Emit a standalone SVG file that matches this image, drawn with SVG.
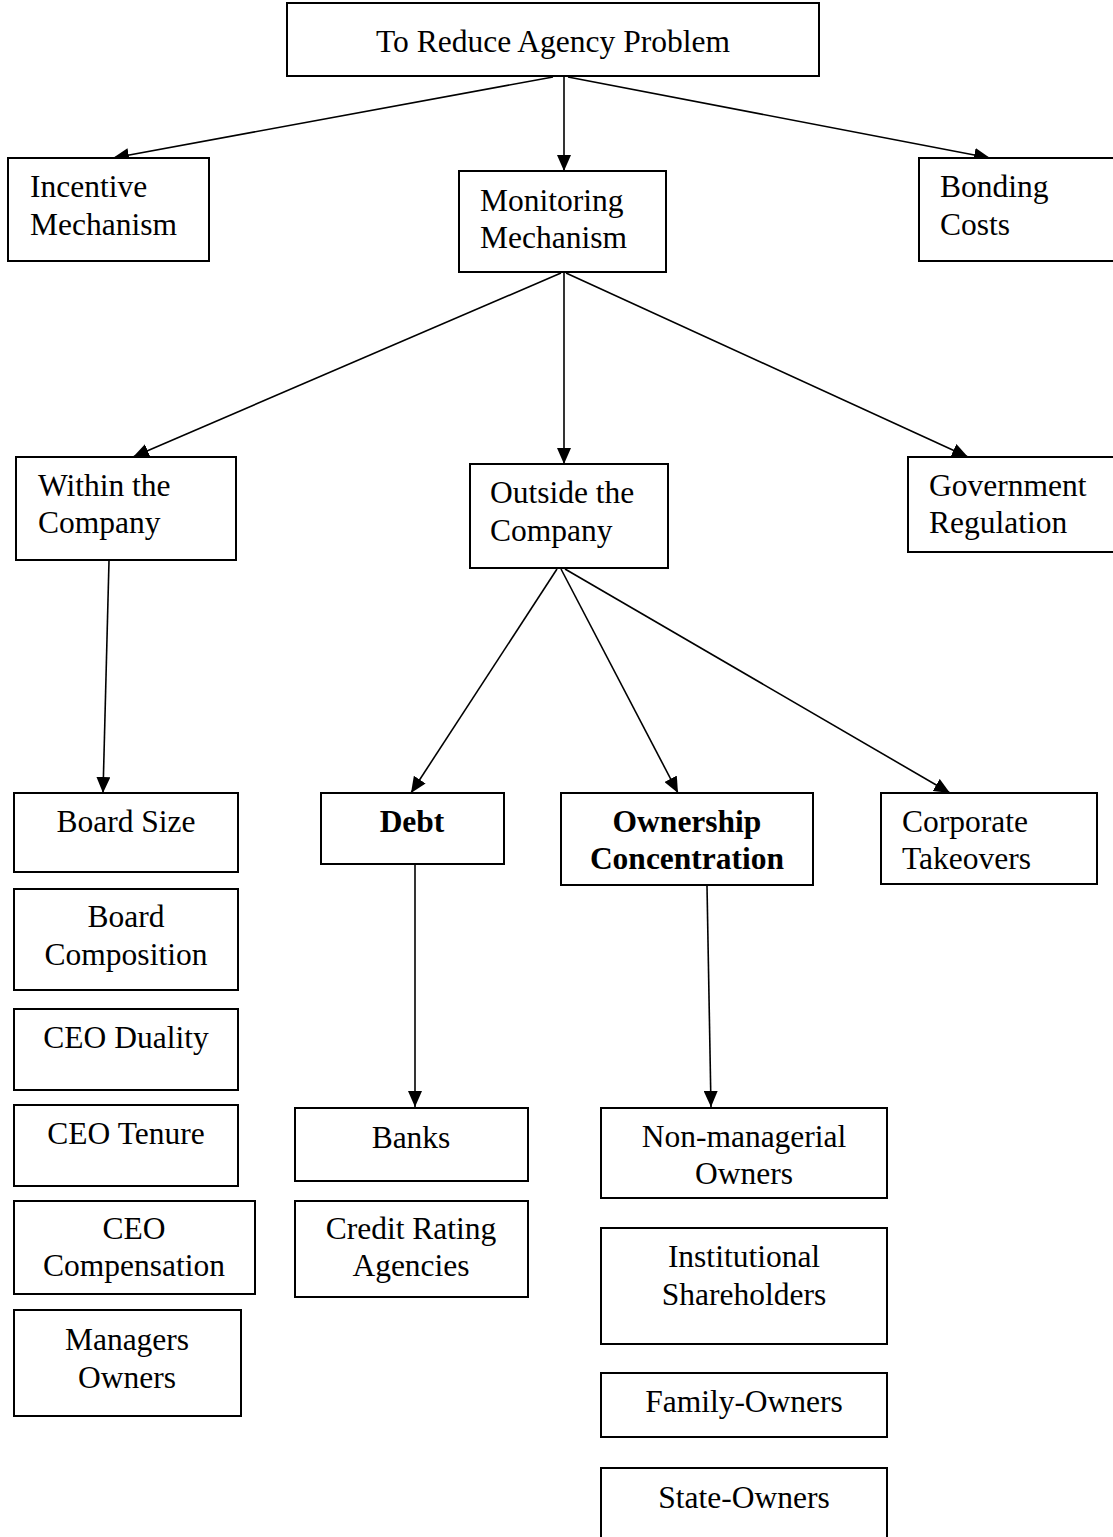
<svg xmlns="http://www.w3.org/2000/svg" width="1113" height="1537" viewBox="0 0 1113 1537">
<style>
rect{fill:#fff;stroke:#000;stroke-width:2}
text{font-family:"Liberation Serif","Times New Roman",serif;font-size:31.5px;fill:#000}
.c{text-anchor:middle}
.b{font-weight:bold}
#connectors line{stroke:#000;stroke-width:1.6;marker-end:url(#ah)}
</style>
<defs>
<marker id="ah" viewBox="0 0 16 14" refX="16" refY="7" markerWidth="16" markerHeight="14" markerUnits="userSpaceOnUse" orient="auto">
<path d="M0,0 L16,7 L0,14 Z" fill="#000"/>
</marker>
</defs>
<g id="connectors">
<line x1="553" y1="77" x2="113" y2="158"/>
<line x1="564" y1="77" x2="564" y2="171"/>
<line x1="568" y1="77" x2="990" y2="158"/>
<line x1="561" y1="273" x2="133" y2="457"/>
<line x1="564" y1="273" x2="564" y2="464"/>
<line x1="566" y1="273" x2="968" y2="457"/>
<line x1="109" y1="561" x2="103" y2="793"/>
<line x1="557" y1="569" x2="411" y2="793"/>
<line x1="561" y1="569" x2="678" y2="793"/>
<line x1="565" y1="569" x2="950" y2="793"/>
<line x1="415" y1="865" x2="415" y2="1107"/>
<line x1="707" y1="886" x2="711" y2="1107"/>
</g>
<g id="n-top"><rect x="287" y="3" width="532" height="73"/><text class="c" x="553" y="52">To Reduce Agency Problem</text></g>
<g id="n-incentive"><rect x="8" y="158" width="201" height="103"/><text x="30" y="197">Incentive</text><text x="30" y="235">Mechanism</text></g>
<g id="n-monitoring"><rect x="459" y="171" width="207" height="101"/><text x="480" y="211">Monitoring</text><text x="480" y="248">Mechanism</text></g>
<g id="n-bonding"><rect x="919" y="158" width="200" height="103"/><text x="940" y="197">Bonding</text><text x="940" y="235">Costs</text></g>
<g id="n-within"><rect x="16" y="457" width="220" height="103"/><text x="38" y="496">Within the</text><text x="38" y="533">Company</text></g>
<g id="n-outside"><rect x="470" y="464" width="198" height="104"/><text x="490" y="503">Outside the</text><text x="490" y="541">Company</text></g>
<g id="n-government"><rect x="908" y="457" width="210" height="95"/><text x="929" y="496">Government</text><text x="929" y="533">Regulation</text></g>
<g id="n-boardsize"><rect x="14" y="793" width="224" height="79"/><text class="c" x="126" y="832">Board Size</text></g>
<g id="n-debt"><rect x="321" y="793" width="183" height="71"/><text class="c b" x="412" y="832">Debt</text></g>
<g id="n-ownership"><rect x="561" y="793" width="252" height="92"/><text class="c b" x="687" y="832">Ownership</text><text class="c b" x="687" y="869">Concentration</text></g>
<g id="n-takeovers"><rect x="881" y="793" width="216" height="91"/><text x="902" y="832">Corporate</text><text x="902" y="869">Takeovers</text></g>
<g id="n-boardcomp"><rect x="14" y="889" width="224" height="101"/><text class="c" x="126" y="927">Board</text><text class="c" x="126" y="965">Composition</text></g>
<g id="n-duality"><rect x="14" y="1009" width="224" height="81"/><text class="c" x="126" y="1048">CEO Duality</text></g>
<g id="n-tenure"><rect x="14" y="1105" width="224" height="81"/><text class="c" x="126" y="1144">CEO Tenure</text></g>
<g id="n-compensation"><rect x="14" y="1201" width="241" height="93"/><text class="c" x="134" y="1239">CEO</text><text class="c" x="134" y="1276">Compensation</text></g>
<g id="n-managers"><rect x="14" y="1310" width="227" height="106"/><text class="c" x="127" y="1350">Managers</text><text class="c" x="127" y="1388">Owners</text></g>
<g id="n-banks"><rect x="295" y="1108" width="233" height="73"/><text class="c" x="411" y="1148">Banks</text></g>
<g id="n-credit"><rect x="295" y="1201" width="233" height="96"/><text class="c" x="411" y="1239">Credit Rating</text><text class="c" x="411" y="1276">Agencies</text></g>
<g id="n-nonmanagerial"><rect x="601" y="1108" width="286" height="90"/><text class="c" x="744" y="1147">Non-managerial</text><text class="c" x="744" y="1184">Owners</text></g>
<g id="n-institutional"><rect x="601" y="1228" width="286" height="116"/><text class="c" x="744" y="1267">Institutional</text><text class="c" x="744" y="1305">Shareholders</text></g>
<g id="n-family"><rect x="601" y="1373" width="286" height="64"/><text class="c" x="744" y="1412">Family-Owners</text></g>
<g id="n-state"><rect x="601" y="1468" width="286" height="80"/><text class="c" x="744" y="1508">State-Owners</text></g>
</svg>
